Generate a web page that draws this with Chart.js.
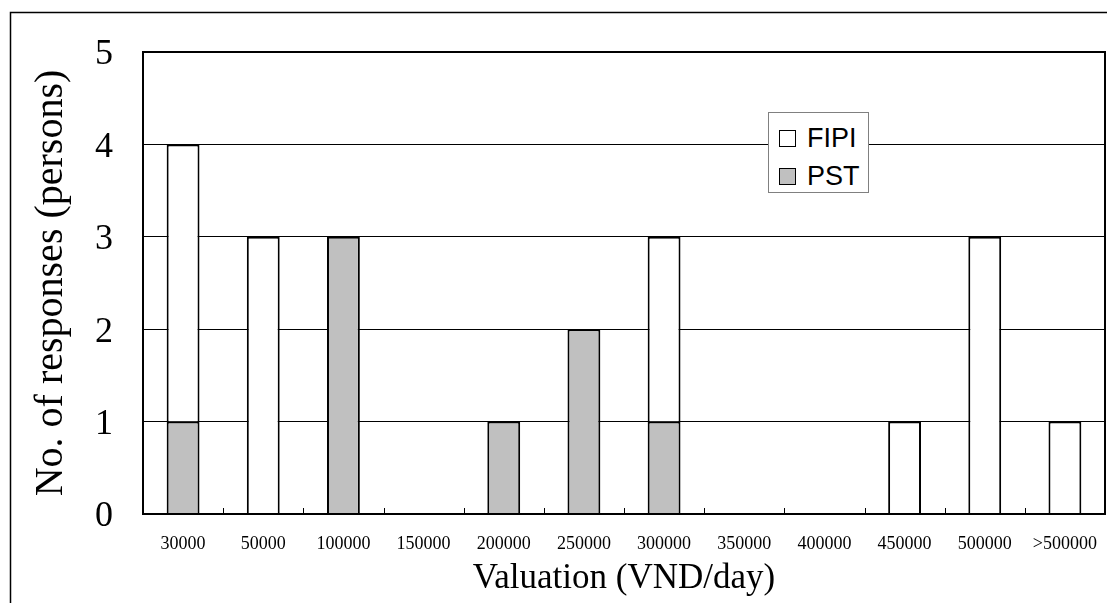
<!DOCTYPE html>
<html>
<head>
<meta charset="utf-8">
<script src="https://cdn.jsdelivr.net/npm/chart.js@4.4.0/dist/chart.umd.min.js"></script>
<style>
  html, body { margin: 0; padding: 0; background: #fff; }
  #wrap { position: relative; width: 1107px; height: 603px; }
  #legend {
    position: absolute; left: 768px; top: 112px; width: 101px; height: 81px;
    box-sizing: border-box; border: 1px solid #808080; background: #fff;
    padding: 6px 0 0 10px;
    font-family: "Liberation Sans", Arial, sans-serif; font-size: 27px; color: #000;
  }
  .item { display: flex; align-items: center; height: 38px; }
  .swatch { width: 15px; height: 15px; border: 1.5px solid #000; margin-right: 11px; }
</style>
</head>
<body>
<div id="wrap">
  <canvas id="chart" width="1107" height="603"></canvas>
  <div id="legend"></div>
</div>
<script>
const categories = ['30000', '50000', '100000', '150000', '200000', '250000',
                    '300000', '350000', '400000', '450000', '500000', '>500000'];
const pstCounts  = [1, 0, 3, 0, 1, 2, 1, 0, 0, 0, 0, 0];
const fipiCounts = [3, 3, 0, 0, 0, 0, 2, 0, 0, 1, 3, 1];
const yMin = 0, yMax = 5, yStep = 1;

const serif = "'Liberation Serif', 'Times New Roman', serif";

// outer frame, plot box and the small inward ticks on the x axis
const framePlugin = {
  id: 'frame',
  beforeDraw(chart) {
    const c = chart.ctx;
    c.save();
    c.strokeStyle = '#000';
    c.lineWidth = 1.5;
    c.beginPath();
    c.moveTo(10.5, chart.height);
    c.lineTo(10.5, 12.5);
    c.lineTo(chart.width, 12.5);
    c.stroke();
    c.restore();
  },
  afterDraw(chart) {
    const c = chart.ctx, a = chart.chartArea, x = chart.scales.x;
    c.save();
    c.strokeStyle = '#000';
    c.lineWidth = 2;
    c.strokeRect(a.left, a.top, a.right - a.left, a.bottom - a.top);
    c.lineWidth = 1;
    for (let i = 0; i < categories.length - 1; i++) {
      const px = Math.round((x.getPixelForTick(i) + x.getPixelForTick(i + 1)) / 2) + 0.5;
      c.beginPath();
      c.moveTo(px, a.bottom);
      c.lineTo(px, a.bottom - 6);
      c.stroke();
    }
    c.restore();
  }
};

const chart = new Chart(document.getElementById('chart'), {
  type: 'bar',
  data: {
    labels: categories,
    datasets: [
      {
        label: 'PST',
        data: pstCounts.map(v => v || null),
        backgroundColor: '#c0c0c0',
        borderColor: '#000',
        borderWidth: 2
      },
      {
        label: 'FIPI',
        data: fipiCounts.map(v => v || null),
        backgroundColor: '#ffffff',
        borderColor: '#000',
        borderWidth: 2
      }
    ]
  },
  options: {
    responsive: false,
    animation: false,
    barPercentage: 0.41,
    categoryPercentage: 1,
    layout: { padding: { top: 52, right: 2, left: 0, bottom: 0 } },
    plugins: {
      legend: { display: false },
      tooltip: { enabled: false }
    },
    scales: {
      x: {
        stacked: true,
        grid: { display: false },
        border: { display: false },
        ticks: {
          color: '#000', font: { family: serif, size: 18 },
          padding: 11, maxRotation: 0, autoSkip: false
        },
        title: {
          display: true, text: 'Valuation (VND/day)', color: '#000',
          font: { family: serif, size: 35, lineHeight: 1 },
          padding: { top: 0, bottom: 7 }
        },
        afterFit: s => { s.height = 89; s.paddingLeft = 0; s.paddingRight = 0; }
      },
      y: {
        stacked: true,
        min: yMin, max: yMax,
        grid: { color: '#000', lineWidth: 1, drawTicks: false },
        border: { display: false },
        ticks: {
          stepSize: yStep, color: '#000', font: { family: serif, size: 36 },
          padding: 30, labelOffset: 3
        },
        title: {
          display: true, text: 'No. of responses (persons)', color: '#000',
          font: { family: serif, size: 40, lineHeight: 1 },
          padding: { top: 31, bottom: 0 }
        },
        afterFit: s => { s.width = 143; }
      }
    }
  },
  plugins: [framePlugin]
});

// legend box placed inside the plot, FIPI listed first
const legend = document.getElementById('legend');
chart.data.datasets.slice().reverse().forEach(ds => {
  const row = document.createElement('div');
  row.className = 'item';
  const sw = document.createElement('span');
  sw.className = 'swatch';
  sw.style.background = ds.backgroundColor;
  const txt = document.createElement('span');
  txt.textContent = ds.label;
  row.appendChild(sw);
  row.appendChild(txt);
  legend.appendChild(row);
});
</script>
</body>
</html>
